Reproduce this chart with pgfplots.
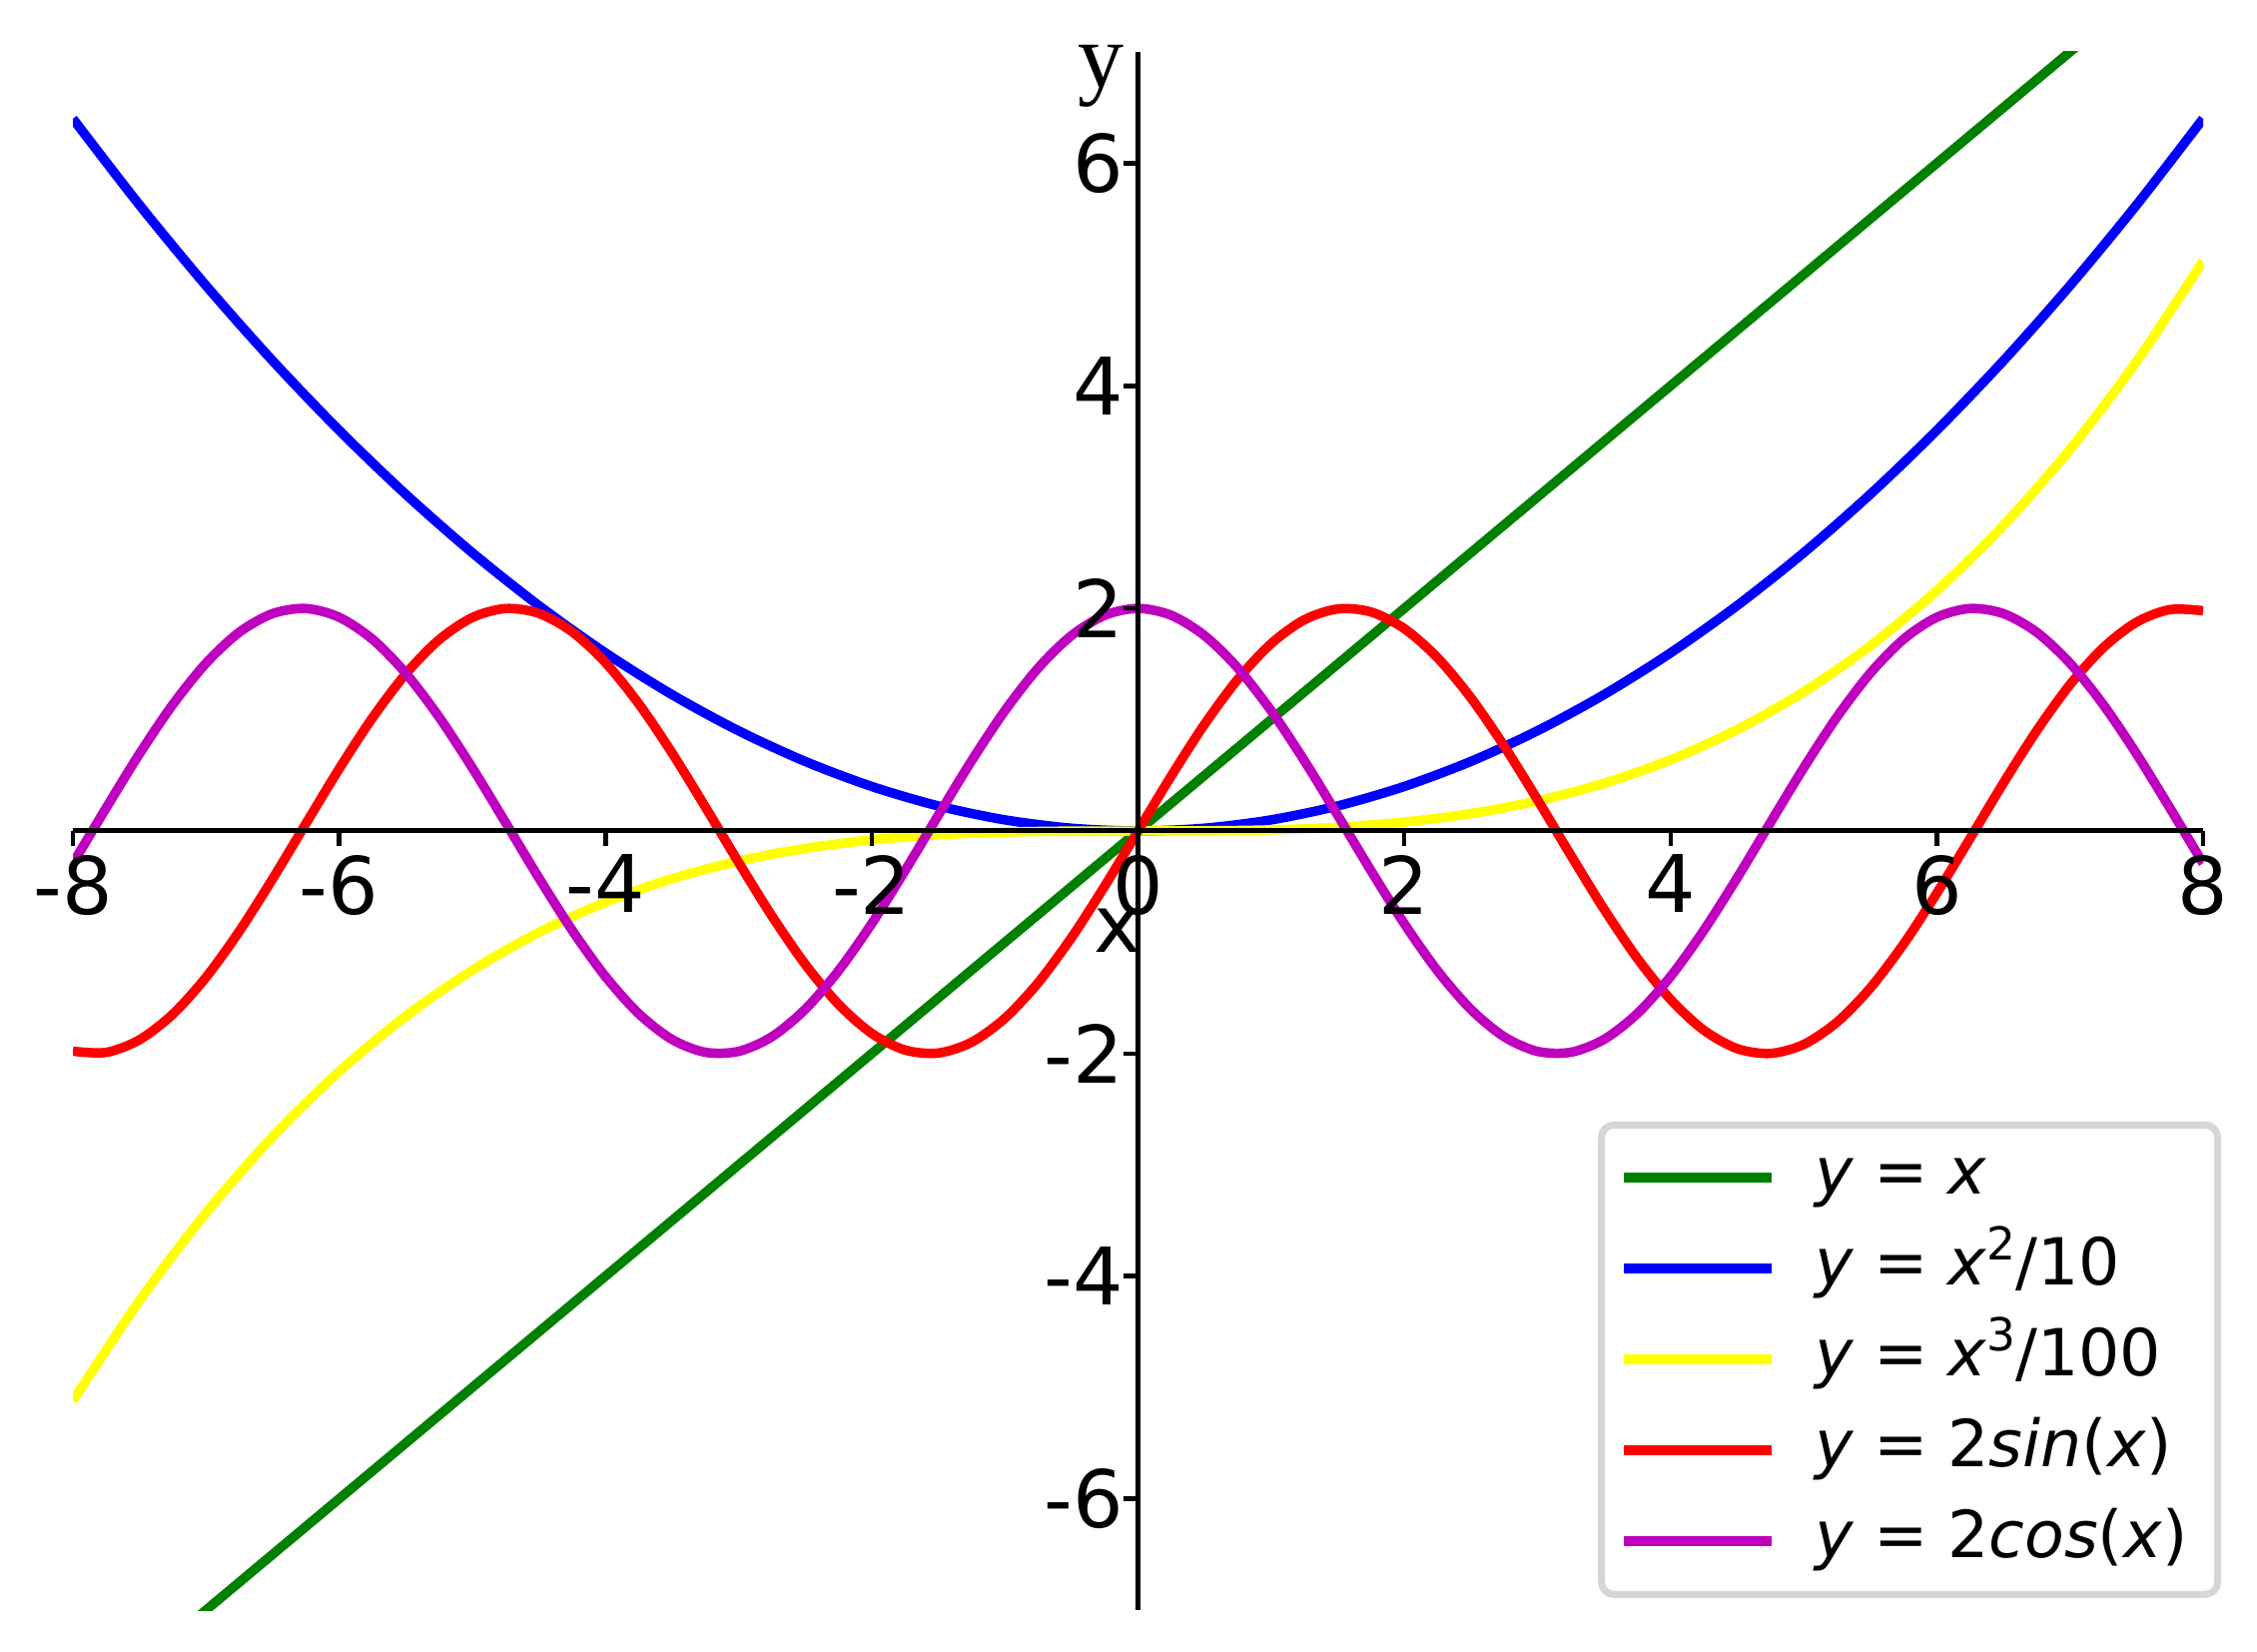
\documentclass[border=0pt]{standalone}
\usepackage{fontspec}
\setmainfont{DejaVu Sans}
\newfontfamily\serify{Liberation Serif}
\usepackage{pgfplots}
\pgfplotsset{compat=1.18}
\definecolor{mgreen}{RGB}{0,128,0}
\definecolor{mblue}{RGB}{0,0,255}
\definecolor{myellow}{RGB}{255,255,0}
\definecolor{mred}{RGB}{255,0,0}
\definecolor{mmagenta}{RGB}{191,0,191}
\definecolor{legframe}{RGB}{214,214,214}
\newcommand{\eq}{\hspace{0.3em}=\hspace{0.3em}}
\newcommand{\sups}[1]{\raisebox{5pt}{\fontsize{9.1}{10}\selectfont #1}}

\begin{document}
\begin{tikzpicture}
\begin{axis}[
    scale only axis, width=426.6pt, height=312pt,
    xmin=-8, xmax=8, ymin=-7, ymax=7,
    axis on top,
    axis lines=middle,
    axis line style={-, line width=1pt, black},
    xtick={-8,-6,-4,-2,0,2,4,6,8},
    xticklabels={-8,-6,-4,-2,0,2,4,6,8},
    ytick={-6,-4,-2,2,4,6},
    yticklabels={-6,-4,-2,2,4,6},
    hide obscured x ticks=false,
    hide obscured y ticks=false,
    tick align=outside,
    major tick length=3pt,
    major tick style={line width=0.9pt, black},
    ticklabel style={font=\fontsize{15.9}{18}\selectfont},
    xticklabel style={inner sep=0pt, yshift=-1.6pt},
    yticklabel style={inner sep=0pt, xshift=0.3pt},
    every axis x label/.style={at={(axis description cs:0.5018,0.42243)}, anchor=base east, inner sep=0pt, font=\fontsize{15.9}{18}\selectfont},
    every axis y label/.style={at={(axis description cs:0.4941,0.97693)}, anchor=base east, inner sep=0pt, font=\serify\fontsize{18.4}{20}\selectfont},
    xlabel={x}, ylabel={y},
    every axis plot/.append style={line width=1.9pt, line join=round},
    legend style={
        at={(axis cs:8.136,-2.61)}, anchor=north east,
        draw=legframe, line width=1.4pt, rounded corners=2.5pt, fill=white,
        font=\fontsize{13}{15}\selectfont,
        inner xsep=3.4pt, inner ysep=4pt,
        row sep=5pt, column sep=7.8pt,
        nodes={inner sep=0pt, text height=9.8pt, text depth=3.4pt},
    },
    legend cell align=left,
    legend image code/.code={\draw[#1, line width=2pt, rounded corners=0pt] (0pt,0pt) -- (29.6pt,0pt);},
]
\coordinate (sw) at (rel axis cs:0,0);
\coordinate (ne) at (rel axis cs:1,1);

% y = x
\addplot[mgreen] coordinates {(-8,-8)(8,8)};
\addlegendentry{\textit{y}\eq\textit{x}}

% y = x^2/10
\addplot[mblue, smooth] coordinates {
  (-8,6.4)(-7.5,5.625)(-7,4.9)(-6.5,4.225)(-6,3.6)(-5.5,3.025)(-5,2.5)(-4.5,2.025)
  (-4,1.6)(-3.5,1.225)(-3,0.9)(-2.5,0.625)(-2,0.4)(-1.5,0.225)(-1,0.1)(-0.5,0.025)
  (0,0)
  (0.5,0.025)(1,0.1)(1.5,0.225)(2,0.4)(2.5,0.625)(3,0.9)(3.5,1.225)(4,1.6)
  (4.5,2.025)(5,2.5)(5.5,3.025)(6,3.6)(6.5,4.225)(7,4.9)(7.5,5.625)(8,6.4)
};
\addlegendentry{\textit{y}\eq\textit{x}\sups{2}/10}

% y = x^3/100
\addplot[myellow, smooth] coordinates {
  (-8,-5.12)(-7.5,-4.21875)(-7,-3.43)(-6.5,-2.74625)(-6,-2.16)(-5.5,-1.66375)(-5,-1.25)
  (-4.5,-0.91125)(-4,-0.64)(-3.5,-0.42875)(-3,-0.27)(-2.5,-0.15625)(-2,-0.08)
  (-1.5,-0.03375)(-1,-0.01)(-0.5,-0.00125)(0,0)
  (0.5,0.00125)(1,0.01)(1.5,0.03375)(2,0.08)(2.5,0.15625)(3,0.27)(3.5,0.42875)
  (4,0.64)(4.5,0.91125)(5,1.25)(5.5,1.66375)(6,2.16)(6.5,2.74625)(7,3.43)
  (7.5,4.21875)(8,5.12)
};
\addlegendentry{\textit{y}\eq\textit{x}\sups{3}/100}

% y = 2 sin(x)
\addplot[mred, smooth] coordinates {
  (-8,-1.9787)(-7.75,-1.9892)(-7.5,-1.8760)(-7.25,-1.6462)(-7,-1.3140)(-6.75,-0.9001)
  (-6.5,-0.4302)(-6.25,0.0664)(-6,0.5588)(-5.75,1.0166)(-5.5,1.4111)(-5.25,1.7179)
  (-5,1.9178)(-4.75,1.9986)(-4.5,1.9551)(-4.25,1.7900)(-4,1.5136)(-3.75,1.1431)
  (-3.5,0.7016)(-3.25,0.2164)(-3,-0.2822)(-2.75,-0.7633)(-2.5,-1.1969)(-2.25,-1.5561)
  (-2,-1.8186)(-1.75,-1.9680)(-1.5,-1.9950)(-1.25,-1.8980)(-1,-1.6829)(-0.75,-1.3633)
  (-0.5,-0.9589)(-0.25,-0.4948)(0,0)
  (0.25,0.4948)(0.5,0.9589)(0.75,1.3633)(1,1.6829)(1.25,1.8980)(1.5,1.9950)
  (1.75,1.9680)(2,1.8186)(2.25,1.5561)(2.5,1.1969)(2.75,0.7633)(3,0.2822)
  (3.25,-0.2164)(3.5,-0.7016)(3.75,-1.1431)(4,-1.5136)(4.25,-1.7900)(4.5,-1.9551)
  (4.75,-1.9986)(5,-1.9178)(5.25,-1.7179)(5.5,-1.4111)(5.75,-1.0166)(6,-0.5588)
  (6.25,-0.0664)(6.5,0.4302)(6.75,0.9001)(7,1.3140)(7.25,1.6462)(7.5,1.8760)
  (7.75,1.9892)(8,1.9787)
};
\addlegendentry{\textit{y}\eq2\textit{sin}(\textit{x})}

% y = 2 cos(x)
\addplot[mmagenta, smooth] coordinates {
  (-8,-0.2910)(-7.75,0.2076)(-7.5,0.6933)(-7.25,1.1358)(-7,1.5078)(-6.75,1.7860)
  (-6.5,1.9532)(-6.25,1.9989)(-6,1.9203)(-5.75,1.7225)(-5.5,1.4173)(-5.25,1.0242)
  (-5,0.5673)(-4.75,0.0752)(-4.5,-0.4216)(-4.25,-0.8922)(-4,-1.3073)(-3.75,-1.6411)
  (-3.5,-1.8729)(-3.25,-1.9883)(-3,-1.9800)(-2.75,-1.8486)(-2.5,-1.6023)(-2.25,-1.2563)
  (-2,-0.8323)(-1.75,-0.3565)(-1.5,0.1415)(-1.25,0.6306)(-1,1.0806)(-0.75,1.4634)
  (-0.5,1.7552)(-0.25,1.9378)(0,2)
  (0.25,1.9378)(0.5,1.7552)(0.75,1.4634)(1,1.0806)(1.25,0.6306)(1.5,0.1415)
  (1.75,-0.3565)(2,-0.8323)(2.25,-1.2563)(2.5,-1.6023)(2.75,-1.8486)(3,-1.9800)
  (3.25,-1.9883)(3.5,-1.8729)(3.75,-1.6411)(4,-1.3073)(4.25,-0.8922)(4.5,-0.4216)
  (4.75,0.0752)(5,0.5673)(5.25,1.0242)(5.5,1.4173)(5.75,1.7225)(6,1.9203)
  (6.25,1.9989)(6.5,1.9532)(6.75,1.7860)(7,1.5078)(7.25,1.1358)(7.5,0.6933)
  (7.75,0.2076)(8,-0.2910)
};
\addlegendentry{\textit{y}\eq2\textit{cos}(\textit{x})\kern2.6pt}
\end{axis}
\pgfresetboundingbox
\useasboundingbox ([shift={(-14.6pt,-8.2pt)}]sw) rectangle ([shift={(10.8pt,10.4pt)}]ne);
\end{tikzpicture}
\end{document}
